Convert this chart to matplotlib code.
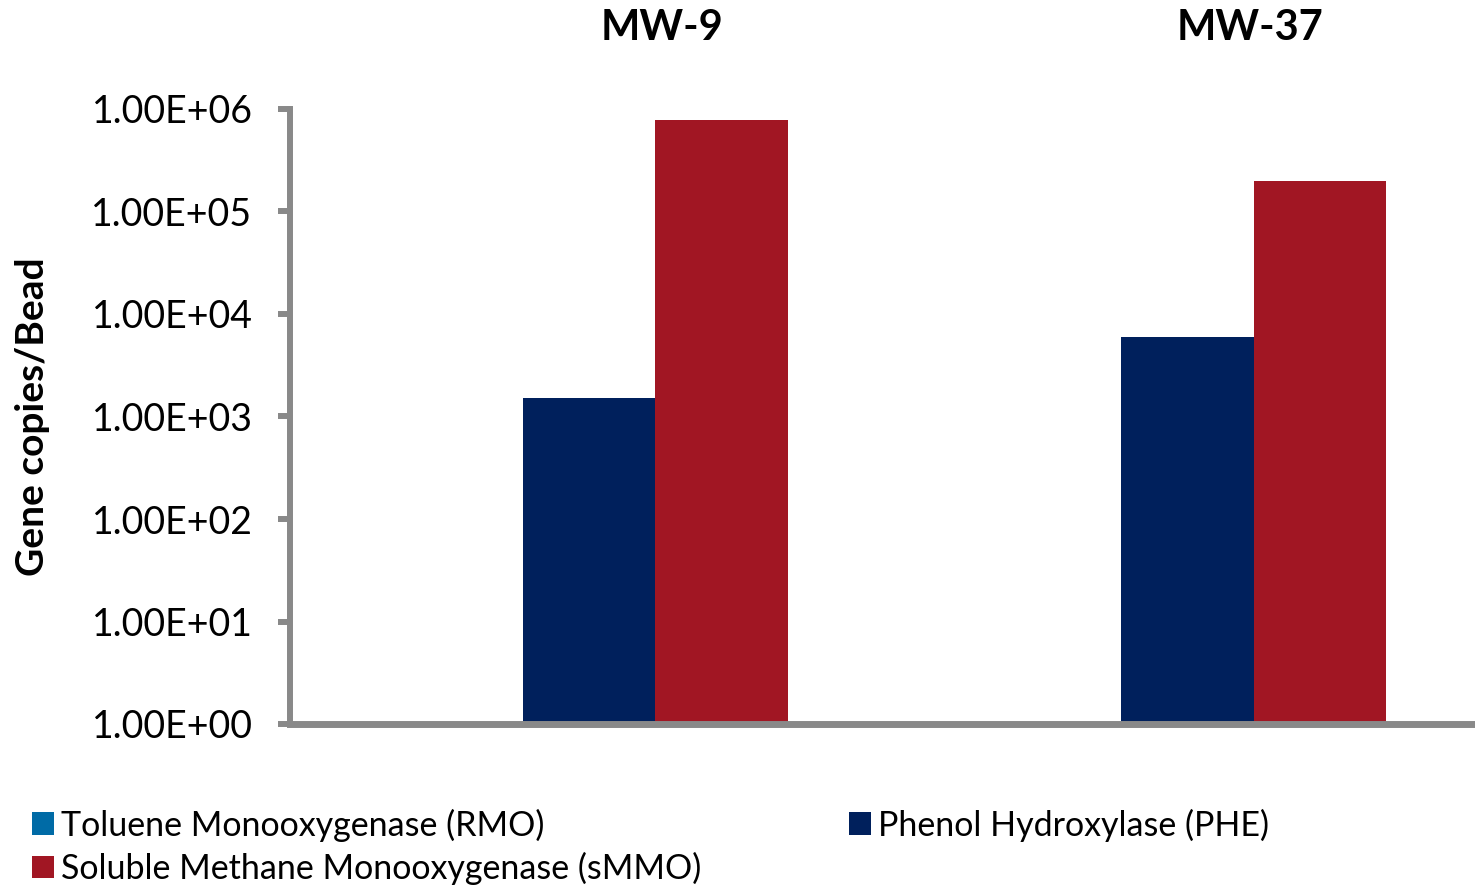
import matplotlib
matplotlib.use("Agg")
import matplotlib.pyplot as plt
import matplotlib.transforms as mtransforms
import numpy as np

plt.rcParams['font.family'] = ['Lato', 'DejaVu Sans']

sites = ["MW-9", "MW-37"]
series_names = [
    "Toluene Monooxygenase (RMO)",
    "Phenol Hydroxylase (PHE)",
    "Soluble Methane Monooxygenase (sMMO)",
]
rmo = [0, 0]
phe = [1.5e3, 6.0e3]
smmo = [7.8e5, 2.0e5]
colors = ["#006BA6", "#00205C", "#A11623"]
ytick_vals = [1e0, 1e1, 1e2, 1e3, 1e4, 1e5, 1e6]
ytick_labels = ["1.00E+00", "1.00E+01", "1.00E+02", "1.00E+03",
                "1.00E+04", "1.00E+05", "1.00E+06"]

W, H = 1475, 890
fig = plt.figure(figsize=(W / 100, H / 100), dpi=100)
ax = fig.add_axes([290 / W, (H - 724) / H, (W - 290) / W, (724 - 109) / H])

x = np.arange(len(sites))
bw = 0.2224
ax.set_yscale('log')
bars = []
for off, vals, col, name in zip([-bw, 0, bw], [rmo, phe, smmo], colors, series_names):
    bars.append(ax.bar(x + off, vals, width=bw, color=col, label=name, zorder=2))

ax.set_ylim(1, 1e6)
ax.set_xlim(-0.5, 1.4816)

grey = "#898989"
for s in ['top', 'right']:
    ax.spines[s].set_visible(False)
ax.spines['left'].set_color(grey)
ax.spines['left'].set_linewidth(4.3)
ax.spines['left'].set_zorder(3)
ax.spines['bottom'].set_color(grey)
ax.spines['bottom'].set_linewidth(5)
ax.spines['bottom'].set_zorder(3)

ax.set_xticks([])
ax.set_yticks(ytick_vals)
ax.set_yticklabels(ytick_labels)
ax.yaxis.set_minor_locator(matplotlib.ticker.NullLocator())
ax.tick_params(axis='y', length=9, width=4.3, color=grey, labelsize=27,
               pad=18, labelcolor='black')

ax.set_ylabel("Gene copies/Bead", fontsize=28, fontweight='bold', labelpad=30)

# site headings above each group
title_tf = mtransforms.blended_transform_factory(ax.transData, fig.transFigure)
for xpos, s in zip([0.122, 1.105], sites):
    ax.text(xpos, (H - 28) / H, s, transform=title_tf,
            ha='center', va='center', fontsize=30, fontweight='bold')

# legend: RMO and sMMO in the first column, PHE in the second
order = [0, 2, 1]
leg = fig.legend([bars[i] for i in order], [series_names[i] for i in order],
                 loc='upper left', bbox_to_anchor=(18 / W, (H - 795) / H),
                 ncol=2, frameon=False, fontsize=24.5, handlelength=0.65,
                 handleheight=0.65, handletextpad=0.2, columnspacing=4.35,
                 labelspacing=0.3, borderaxespad=0)

fig.savefig("out.png", dpi=100)
